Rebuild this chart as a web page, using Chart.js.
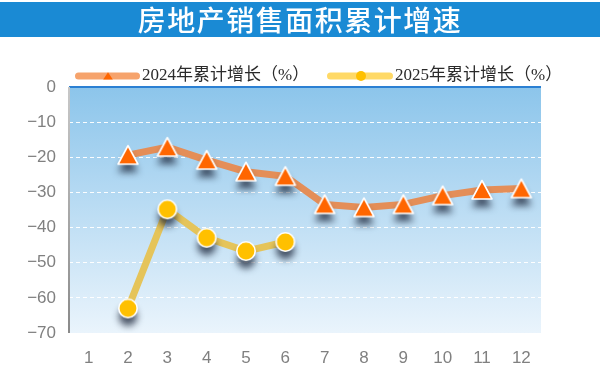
<!DOCTYPE html>
<html>
<head>
<meta charset="utf-8">
<script src="https://cdn.jsdelivr.net/npm/chart.js@4"></script>
<style>
html,body{margin:0;padding:0;background:#fff;}
#wrap{position:relative;width:600px;height:383px;overflow:hidden;}
#title{position:absolute;left:0;top:2px;width:600px;height:35px;background:#1A8AD4;color:#fff;
  font-family:"Noto Sans CJK SC",sans-serif;font-size:28px;line-height:35px;text-align:center;letter-spacing:1.5px;font-weight:500;z-index:2;}
#c{position:absolute;left:0;top:0;}
</style>
</head>
<body>
<div id="wrap">
  <div id="title">房地产销售面积累计增速</div>
  <canvas id="c" width="600" height="383"></canvas>
</div>
<script>
const categories = ['1','2','3','4','5','6','7','8','9','10','11','12'];
const series2024 = [null, -19.4, -17.1, -20.8, -24.1, -25.4, -33.4, -34.3, -33.4, -30.9, -29.3, -28.9];
const series2025 = [null, -63.0, -34.8, -42.9, -46.7, -44.1, null, null, null, null, null, null];
const seriesNames = ['2024年累计增长（%）', '2025年累计增长（%）'];
const yTicks = [0, -10, -20, -30, -40, -50, -60, -70];

function makeTriangle() {
  const c = document.createElement('canvas');
  c.width = 44; c.height = 52;
  const g = c.getContext('2d');
  const cx = 22, cy = 26;
  g.beginPath();
  g.moveTo(cx, cy - 9.5);
  g.lineTo(cx + 10, cy + 9);
  g.lineTo(cx - 10, cy + 9);
  g.closePath();
  g.shadowColor = 'rgba(25,35,55,0.75)';
  g.shadowBlur = 7;
  g.shadowOffsetY = 8;
  g.fillStyle = '#FF6600';
  g.fill();
  g.shadowColor = 'transparent';
  g.lineJoin = 'round';
  g.lineWidth = 1.6;
  g.strokeStyle = '#fff';
  g.stroke();
  return c;
}
function makeCircle() {
  const c = document.createElement('canvas');
  c.width = 44; c.height = 52;
  const g = c.getContext('2d');
  const cx = 22, cy = 26;
  g.beginPath();
  g.arc(cx, cy, 9.2, 0, Math.PI * 2);
  g.shadowColor = 'rgba(25,35,55,0.75)';
  g.shadowBlur = 7;
  g.shadowOffsetY = 8;
  g.fillStyle = '#FFC000';
  g.fill();
  g.shadowColor = 'transparent';
  g.lineWidth = 1.6;
  g.strokeStyle = '#fff';
  g.stroke();
  return c;
}

const decor = {
  id: 'decor',
  beforeDraw(chart) {
    const {ctx, chartArea: a} = chart;
    ctx.save();
    const gr = ctx.createLinearGradient(0, a.top, 0, a.bottom);
    gr.addColorStop(0, '#8CC5EB');
    gr.addColorStop(1, '#EAF4FC');
    ctx.fillStyle = gr;
    ctx.fillRect(a.left, a.top, a.right - a.left, a.bottom - a.top);
    ctx.restore();
  },
  beforeDatasetsDraw(chart) {
    const {ctx, chartArea: a} = chart;
    ctx.save();
    ctx.strokeStyle = '#2B80D3';
    ctx.lineWidth = 2;
    ctx.beginPath();
    ctx.moveTo(a.left, a.top);
    ctx.lineTo(a.right, a.top);
    ctx.stroke();
    const ag = ctx.createLinearGradient(0, a.top, 0, a.bottom);
    ag.addColorStop(0, '#C8C8C8');
    ag.addColorStop(1, '#8A8A8A');
    ctx.strokeStyle = ag;
    ctx.beginPath();
    ctx.moveTo(a.left, a.top);
    ctx.lineTo(a.left, a.bottom);
    ctx.stroke();
    ctx.restore();
  },
  afterDraw(chart) {
    const {ctx} = chart;
    ctx.save();
    const y = 76;
    ctx.lineCap = 'round';
    ctx.lineWidth = 7;
    // legend 1
    ctx.strokeStyle = '#F6A36C';
    ctx.beginPath(); ctx.moveTo(78.5, y); ctx.lineTo(136.5, y); ctx.stroke();
    ctx.fillStyle = '#FF6600';
    ctx.beginPath(); ctx.moveTo(108, y - 3.8); ctx.lineTo(112.8, y + 3.5); ctx.lineTo(103.2, y + 3.5); ctx.closePath(); ctx.fill();
    // legend 2
    ctx.strokeStyle = '#FFD966';
    ctx.beginPath(); ctx.moveTo(330.5, y); ctx.lineTo(389.5, y); ctx.stroke();
    ctx.fillStyle = '#FFC000';
    ctx.beginPath(); ctx.arc(361, y, 5, 0, Math.PI * 2); ctx.fill();
    ctx.fillStyle = '#2a2a2a';
    ctx.font = '17px "Liberation Serif", "Noto Sans CJK SC", serif';
    ctx.textBaseline = 'middle';
    ctx.textAlign = 'left';
    ctx.fillText(seriesNames[0], 142, y);
    ctx.fillText(seriesNames[1], 395, y);
    ctx.restore();
  }
};

const triImg = makeTriangle();
const cirImg = makeCircle();

new Chart(document.getElementById('c'), {
  type: 'line',
  data: {
    labels: categories,
    datasets: [
      {
        label: seriesNames[0],
        data: series2024,
        borderColor: '#E48E58',
        borderWidth: 7,
        tension: 0,
        pointStyle: triImg,
        pointRadius: 10,
        spanGaps: false
      },
      {
        label: seriesNames[1],
        data: series2025,
        borderColor: '#E5C45A',
        borderWidth: 7,
        tension: 0,
        pointStyle: cirImg,
        pointRadius: 10,
        spanGaps: false
      }
    ]
  },
  options: {
    responsive: false,
    animation: false,
    events: [],
    layout: {padding: {left: 0, right: 59, top: 87, bottom: 0}},
    plugins: {legend: {display: false}, tooltip: {enabled: false}, title: {display: false}},
    scales: {
      x: {
        offset: true,
        grid: {display: false, drawTicks: false},
        border: {display: false},
        ticks: {color: '#808080', font: {family: '"Liberation Sans", Arial, sans-serif', size: 17}, padding: 15, maxRotation: 0, autoSkip: false},
        afterFit(s) { s.height = 50; }
      },
      y: {
        min: -70, max: 0,
        afterBuildTicks(s) { s.ticks = yTicks.map(v => ({value: v})); },
        grid: {
          drawTicks: false,
          lineWidth: 1,
          color: c => (c.tick && (c.tick.value === 0 || c.tick.value === -70)) ? 'rgba(0,0,0,0)' : 'rgba(255,255,255,0.95)'
        },
        border: {display: false, dash: [4, 3]},
        ticks: {
          color: '#808080',
          font: {family: '"Liberation Sans", Arial, sans-serif', size: 17},
          padding: 13,
          callback: v => String(v).replace('-', '\u2212')
        },
        afterFit(s) { s.width = 69; }
      }
    }
  },
  plugins: [decor]
});
</script>
</body>
</html>
